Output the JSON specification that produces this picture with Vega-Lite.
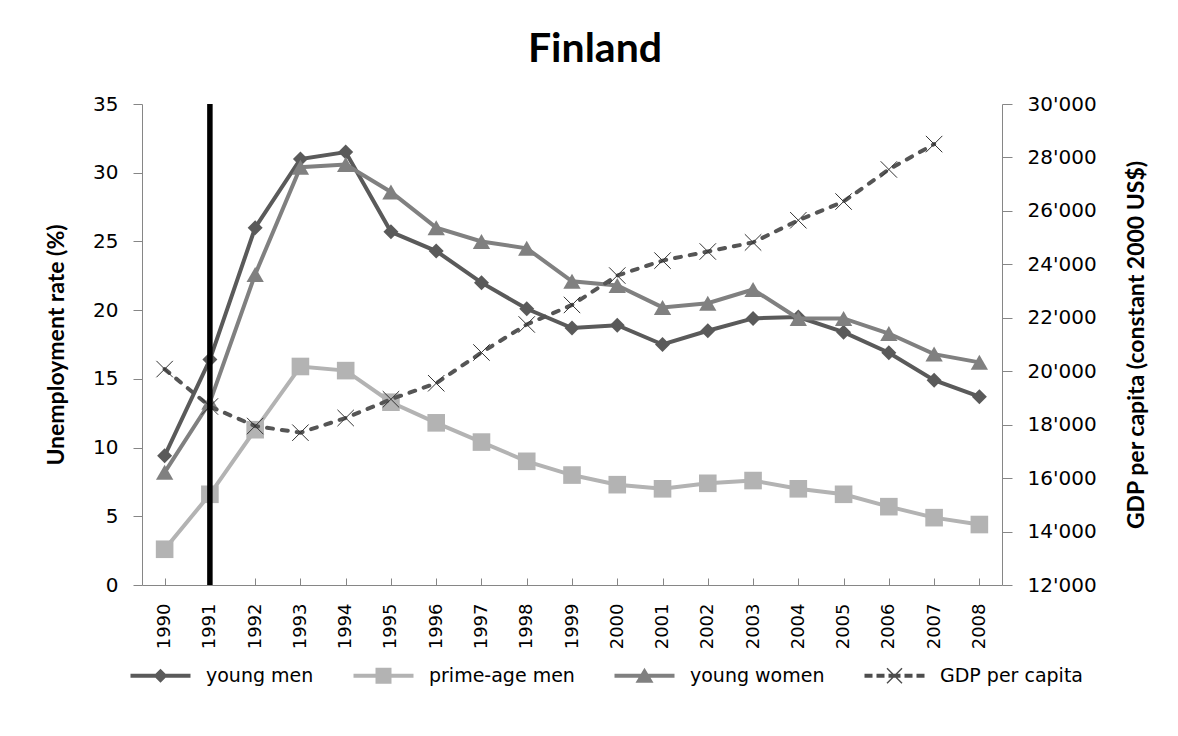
{
  "$schema": "https://vega.github.io/schema/vega-lite/v6.json",
  "width": 860,
  "height": 481,
  "autosize": {"type": "none"},
  "padding": {"left": 142, "top": 104, "right": 176, "bottom": 151},
  "background": "white",
  "config": {
    "view": {"stroke": null},
    "font": "DejaVu Sans",
    "legend": {
      "orient": "none",
      "legendX": -19,
      "legendY": 562,
      "direction": "horizontal",
      "columns": 4,
      "columnPadding": 32,
      "title": null,
      "symbolSize": 4,
      "symbolOffset": 28,
      "symbolStrokeWidth": 0,
      "labelOffset": 36,
      "labelFont": "DejaVu Sans",
      "labelFontSize": 19,
      "labelColor": "#000"
    }
  },
  "title": {
    "text": "Finland",
    "font": "Lato",
    "fontWeight": "bold",
    "fontSize": 41,
    "color": "#000",
    "anchor": "middle",
    "dx": 23,
    "offset": 23
  },
  "datasets": {
    "rates": [
      {"year": "1990", "series": "young men", "value": 9.4},
      {"year": "1991", "series": "young men", "value": 16.4},
      {"year": "1992", "series": "young men", "value": 26.0},
      {"year": "1993", "series": "young men", "value": 31.0},
      {"year": "1994", "series": "young men", "value": 31.5},
      {"year": "1995", "series": "young men", "value": 25.7},
      {"year": "1996", "series": "young men", "value": 24.3},
      {"year": "1997", "series": "young men", "value": 22.0},
      {"year": "1998", "series": "young men", "value": 20.1},
      {"year": "1999", "series": "young men", "value": 18.7},
      {"year": "2000", "series": "young men", "value": 18.9},
      {"year": "2001", "series": "young men", "value": 17.5},
      {"year": "2002", "series": "young men", "value": 18.5},
      {"year": "2003", "series": "young men", "value": 19.4},
      {"year": "2004", "series": "young men", "value": 19.5},
      {"year": "2005", "series": "young men", "value": 18.4},
      {"year": "2006", "series": "young men", "value": 16.9},
      {"year": "2007", "series": "young men", "value": 14.9},
      {"year": "2008", "series": "young men", "value": 13.7},
      {"year": "1990", "series": "prime-age men", "value": 2.6},
      {"year": "1991", "series": "prime-age men", "value": 6.6},
      {"year": "1992", "series": "prime-age men", "value": 11.3},
      {"year": "1993", "series": "prime-age men", "value": 15.9},
      {"year": "1994", "series": "prime-age men", "value": 15.6},
      {"year": "1995", "series": "prime-age men", "value": 13.3},
      {"year": "1996", "series": "prime-age men", "value": 11.8},
      {"year": "1997", "series": "prime-age men", "value": 10.4},
      {"year": "1998", "series": "prime-age men", "value": 9.0},
      {"year": "1999", "series": "prime-age men", "value": 8.0},
      {"year": "2000", "series": "prime-age men", "value": 7.3},
      {"year": "2001", "series": "prime-age men", "value": 7.0},
      {"year": "2002", "series": "prime-age men", "value": 7.4},
      {"year": "2003", "series": "prime-age men", "value": 7.6},
      {"year": "2004", "series": "prime-age men", "value": 7.0},
      {"year": "2005", "series": "prime-age men", "value": 6.6},
      {"year": "2006", "series": "prime-age men", "value": 5.7},
      {"year": "2007", "series": "prime-age men", "value": 4.9},
      {"year": "2008", "series": "prime-age men", "value": 4.4},
      {"year": "1990", "series": "young women", "value": 8.2},
      {"year": "1991", "series": "young women", "value": 13.3},
      {"year": "1992", "series": "young women", "value": 22.6},
      {"year": "1993", "series": "young women", "value": 30.4},
      {"year": "1994", "series": "young women", "value": 30.6},
      {"year": "1995", "series": "young women", "value": 28.6},
      {"year": "1996", "series": "young women", "value": 26.0},
      {"year": "1997", "series": "young women", "value": 25.0},
      {"year": "1998", "series": "young women", "value": 24.5},
      {"year": "1999", "series": "young women", "value": 22.1},
      {"year": "2000", "series": "young women", "value": 21.8},
      {"year": "2001", "series": "young women", "value": 20.2},
      {"year": "2002", "series": "young women", "value": 20.5},
      {"year": "2003", "series": "young women", "value": 21.5},
      {"year": "2004", "series": "young women", "value": 19.4},
      {"year": "2005", "series": "young women", "value": 19.4},
      {"year": "2006", "series": "young women", "value": 18.3},
      {"year": "2007", "series": "young women", "value": 16.8},
      {"year": "2008", "series": "young women", "value": 16.2}
    ],
    "gdp": [
      {"year": "1990", "series": "GDP per capita", "gdp": 20080},
      {"year": "1991", "series": "GDP per capita", "gdp": 18680},
      {"year": "1992", "series": "GDP per capita", "gdp": 17950},
      {"year": "1993", "series": "GDP per capita", "gdp": 17700},
      {"year": "1994", "series": "GDP per capita", "gdp": 18250},
      {"year": "1995", "series": "GDP per capita", "gdp": 18950},
      {"year": "1996", "series": "GDP per capita", "gdp": 19550},
      {"year": "1997", "series": "GDP per capita", "gdp": 20700},
      {"year": "1998", "series": "GDP per capita", "gdp": 21750},
      {"year": "1999", "series": "GDP per capita", "gdp": 22480},
      {"year": "2000", "series": "GDP per capita", "gdp": 23580},
      {"year": "2001", "series": "GDP per capita", "gdp": 24140},
      {"year": "2002", "series": "GDP per capita", "gdp": 24480},
      {"year": "2003", "series": "GDP per capita", "gdp": 24820},
      {"year": "2004", "series": "GDP per capita", "gdp": 25650},
      {"year": "2005", "series": "GDP per capita", "gdp": 26350},
      {"year": "2006", "series": "GDP per capita", "gdp": 27550},
      {"year": "2007", "series": "GDP per capita", "gdp": 28500}
    ],
    "event": [
      {"year": "1991", "low": 0, "high": 35}
    ]
  },
  "encoding": {
    "x": {
      "field": "year",
      "type": "ordinal",
      "scale": {
        "type": "point",
        "padding": 0.5,
        "domain": ["1990","1991","1992","1993","1994","1995","1996","1997","1998","1999","2000","2001","2002","2003","2004","2005","2006","2007","2008"]
      },
      "axis": {
        "title": null,
        "labelAngle": -90,
        "labelFont": "DejaVu Sans",
        "labelFontSize": 18,
        "labelColor": "#000",
        "domainColor": "#868686",
        "tickColor": "#868686",
        "tickSize": -7,
        "labelPadding": 25,
        "grid": false
      }
    }
  },
  "layer": [
    {
      "data": {"name": "rates"},
      "encoding": {
        "y": {
          "field": "value",
          "type": "quantitative",
          "scale": {"domain": [0, 35], "nice": false, "zero": true},
          "axis": {
            "orient": "left",
            "title": "Unemployment rate (%)",
            "titleFont": "Lato",
            "titleFontWeight": "bold",
            "titleFontSize": 23,
            "titleColor": "#000",
            "titlePadding": 24,
            "values": [0, 5, 10, 15, 20, 25, 30, 35],
            "labelFont": "DejaVu Sans",
            "labelFontSize": 20,
            "labelColor": "#000",
            "labelPadding": 15,
            "tickSize": 9,
            "tickColor": "#868686",
            "domainColor": "#868686",
            "grid": false
          }
        }
      },
      "layer": [
        {
          "transform": [{"filter": "datum.series === 'young men'"}],
          "mark": {"type": "line", "color": "#5a5a5a", "strokeWidth": 4}
        },
        {
          "transform": [{"filter": "datum.series === 'young men'"}],
          "mark": {"type": "point", "shape": "diamond", "filled": true, "color": "#5a5a5a", "opacity": 1, "size": 225}
        },
        {
          "transform": [{"filter": "datum.series === 'prime-age men'"}],
          "mark": {"type": "line", "color": "#b3b3b3", "strokeWidth": 4}
        },
        {
          "transform": [{"filter": "datum.series === 'prime-age men'"}],
          "mark": {"type": "point", "shape": "square", "filled": true, "color": "#b3b3b3", "opacity": 1, "size": 310}
        },
        {
          "transform": [{"filter": "datum.series === 'young women'"}],
          "mark": {"type": "line", "color": "#808080", "strokeWidth": 4}
        },
        {
          "transform": [{"filter": "datum.series === 'young women'"}],
          "mark": {"type": "point", "shape": "triangle-up", "filled": true, "color": "#808080", "opacity": 1, "size": 300}
        },
        {
          "transform": [{"filter": "false"}],
          "mark": {"type": "point", "filled": true, "opacity": 1},
          "encoding": {
            "shape": {
              "field": "series",
              "type": "nominal",
              "scale": {
                "domain": ["young men", "prime-age men", "young women", "GDP per capita"],
                "range": [
                  "M-30,-2H30V2H-30Z M0,-7L7,0L0,7L-7,0Z",
                  "M-30,-2H30V2H-30Z M-8,-8H8V8H-8Z",
                  "M-30,-2H30V2H-30Z M0,-8L9,7H-9Z",
                  "M-30,-2H-22V2H-30Z M-18,-2H-10V2H-18Z M-6,-2H6V2H-6Z M10,-2H18V2H10Z M22,-2H30V2H22Z M-8,-7L-7,-8L8,7L7,8Z M7,-8L8,-7L-7,8L-8,7Z"
                ]
              }
            },
            "color": {
              "field": "series",
              "type": "nominal",
              "scale": {
                "domain": ["young men", "prime-age men", "young women", "GDP per capita"],
                "range": ["#5a5a5a", "#b3b3b3", "#808080", "#4d4d4d"]
              }
            }
          }
        }
      ]
    },
    {
      "data": {"name": "gdp"},
      "encoding": {
        "y": {
          "field": "gdp",
          "type": "quantitative",
          "scale": {"domain": [12000, 30000], "nice": false, "zero": false},
          "axis": {
            "orient": "right",
            "title": "GDP per capita (constant 2000 US$)",
            "titleAngle": -90,
            "titleFont": "Lato",
            "titleFontWeight": "bold",
            "titleFontSize": 23,
            "titleColor": "#000",
            "titlePadding": 52,
            "values": [12000, 14000, 16000, 18000, 20000, 22000, 24000, 26000, 28000, 30000],
            "labelExpr": "replace(format(datum.value, ','), ',', \"'\")",
            "labelFont": "DejaVu Sans",
            "labelFontSize": 20,
            "labelColor": "#000",
            "labelPadding": 15,
            "tickSize": 10,
            "tickColor": "#868686",
            "domainColor": "#868686",
            "grid": false
          }
        }
      },
      "layer": [
        {
          "mark": {"type": "line", "color": "#555555", "strokeWidth": 4, "strokeDash": [6, 9], "strokeCap": "round"}
        },
        {
          "mark": {"type": "point", "shape": "M-1,-1L1,1M-1,1L1,-1", "filled": false, "stroke": "#333333", "strokeWidth": 1, "opacity": 1, "size": 270}
        }
      ]
    },
    {
      "data": {"name": "event"},
      "mark": {"type": "rule", "color": "#000000", "strokeWidth": 5.5},
      "encoding": {
        "y": {"field": "low", "type": "quantitative", "scale": {"domain": [0, 35], "nice": false}, "axis": null},
        "y2": {"field": "high"}
      }
    }
  ],
  "resolve": {"scale": {"y": "independent"}}
}
